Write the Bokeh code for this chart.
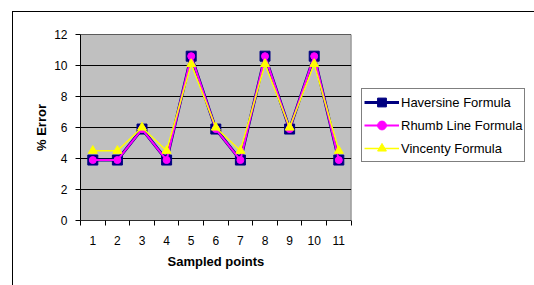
from bokeh.plotting import figure
from bokeh.models import FixedTicker, Legend, LegendItem, Range1d, Title
from bokeh.embed import file_html
from bokeh.resources import INLINE

points = [1, 2, 3, 4, 5, 6, 7, 8, 9, 10, 11]
haversine = [3.9, 3.9, 5.9, 3.9, 10.6, 5.9, 3.9, 10.6, 5.9, 10.6, 3.9]
rhumb = [3.9, 3.9, 5.9, 3.9, 10.6, 5.9, 3.9, 10.6, 5.9, 10.6, 3.9]
vincenty = [4.5, 4.5, 6.0, 4.5, 10.1, 6.0, 4.5, 10.1, 6.0, 10.1, 4.5]
y_ticks = [0, 2, 4, 6, 8, 10, 12]

FONT = "Liberation Sans"

# plot area spans 270 px of a 446 px wide frame; the rest holds the legend
x_lo = points[0] - 0.5
x_hi = points[-1] + 0.5
x_end = x_lo + (x_hi - x_lo) * 446 / 270
y_lo, y_hi = y_ticks[0], y_ticks[-1]

p = figure(width=522, height=274, output_backend="svg", toolbar_location=None,
           x_range=Range1d(x_lo, x_end), y_range=Range1d(y_lo, y_hi),
           min_border_left=67, min_border_top=22, min_border_right=8,
           min_border_bottom=66, background_fill_color="white",
           border_fill_color="white", outline_line_color=None,
           margin=(11, 0, 0, 12),
           styles={"border-left": "1px solid black", "border-top": "1px solid black",
                   "box-sizing": "border-box"})

# grey plot area with its gridlines
p.quad(left=[x_lo], right=[x_hi], bottom=[y_lo], top=[y_hi],
       fill_color="#C0C0C0", line_color="#808080", line_width=1)
p.segment(x0=[x_lo] * len(y_ticks), x1=[x_hi] * len(y_ticks), y0=y_ticks, y1=y_ticks,
          line_color="black", line_width=1)
# x axis line (category axis) limited to the plot area
p.segment(x0=[x_lo], x1=[x_hi], y0=[y_lo], y1=[y_lo], line_color="black", line_width=1)

p.xgrid.visible = False
p.ygrid.visible = False

p.xaxis.ticker = FixedTicker(ticks=points, minor_ticks=[x + 0.5 for x in [0] + points])
p.xaxis.axis_line_color = None
p.xaxis.major_tick_line_color = None
p.xaxis.minor_tick_in = 0
p.xaxis.minor_tick_out = 5
p.xaxis.minor_tick_line_color = "black"
p.xaxis.major_label_standoff = 9

p.add_layout(Title(text="Sampled points", align="left", offset=87, standoff=9,
                   text_font=FONT, text_font_size="13px", text_font_style="bold",
                   text_color="black"), "below")

p.yaxis.ticker = FixedTicker(ticks=y_ticks)
p.yaxis.axis_line_color = "black"
p.yaxis.major_tick_in = 0
p.yaxis.major_tick_out = 5
p.yaxis.minor_tick_line_color = None
p.yaxis.major_label_standoff = 8
p.yaxis.axis_label = "% Error"
p.yaxis.axis_label_standoff = 2

for ax in (p.xaxis, p.yaxis):
    ax.major_label_text_font = FONT
    ax.major_label_text_font_size = "12px"
    ax.major_label_text_color = "black"
    ax.axis_label_text_font = FONT
    ax.axis_label_text_font_size = "13px"
    ax.axis_label_text_font_style = "bold"
    ax.axis_label_text_color = "black"

l1 = p.line(points, haversine, line_color="#000080", line_width=3)
s1 = p.scatter(points, haversine, marker="square", size=10, fill_color="#000080",
               line_color="#000080")
l2 = p.line(points, rhumb, line_color="#FF00FF", line_width=2)
s2 = p.scatter(points, rhumb, marker="circle", size=7, fill_color="#FF00FF",
               line_color="#FF00FF")
l3 = p.line(points, vincenty, line_color="#FFFF00", line_width=1.5)
s3 = p.scatter(points, vincenty, marker="triangle", size=9, fill_color="#FFFF00",
               line_color="#FFFF00")

legend = Legend(items=[
    LegendItem(label="Haversine Formula", renderers=[l1, s1]),
    LegendItem(label="Rhumb Line Formula", renderers=[l2, s2]),
    LegendItem(label="Vincenty Formula", renderers=[l3, s3]),
], location=(281, 58), orientation="vertical")
legend.label_text_font = FONT
legend.label_text_font_size = "13px"
legend.label_text_color = "black"
legend.glyph_width = 35
legend.glyph_height = 22
legend.label_height = 22
legend.label_standoff = 2
legend.spacing = 1
legend.padding = 2
legend.margin = 0
legend.border_line_color = "black"
legend.border_line_width = 1
legend.background_fill_color = "white"
legend.background_fill_alpha = 1
p.add_layout(legend, "center")

open("out.html", "w").write(file_html(p, INLINE))
